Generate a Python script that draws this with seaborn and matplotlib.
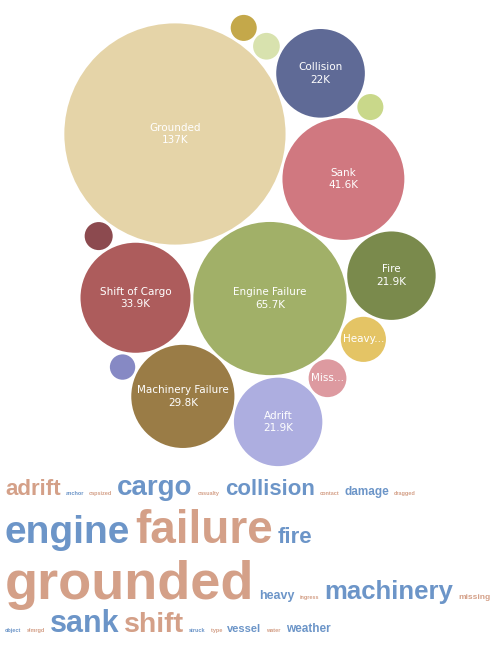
import numpy as np
import matplotlib
matplotlib.use("Agg")
import matplotlib.pyplot as plt
from matplotlib.patches import Circle
import seaborn as sns

sns.set_theme(style="white")
plt.rcParams['font.family'] = ['Liberation Sans', 'DejaVu Sans']

# bubble data (thousands)
causes = ['Grounded', 'Engine Failure', 'Sank', 'Shift of Cargo', 'Machinery Failure',
          'Collision', 'Fire', 'Adrift', 'Heavy Weather', 'Missing',
          'Dragged Anchor', 'Capsized', 'Struck Object', 'Ingress of Water', 'Damage']
counts = [137, 65.7, 41.6, 33.9, 29.8, 22, 21.9, 21.9, 5.7, 4.0, 2.2, 2.0, 1.9, 1.9, 1.8]
colors = ['#e5d4a8', '#a1b068', '#d07880', '#ad5c5c', '#9a7c46',
          '#5f6a96', '#7a8a4c', '#adaee0', '#e4c465', '#dd9aa0',
          '#8c4a4f', '#d8e2ae', '#c4a84a', '#c9d88a', '#8689c4']

# word cloud data
words = ['adrift', 'anchor', 'capsized', 'cargo', 'casualty', 'collision', 'contact',
         'damage', 'dragged', 'engine', 'failure', 'fire', 'grounded', 'heavy', 'ingress',
         'machinery', 'missing', 'object', 'slmrgd', 'sank', 'shift', 'struck', 'type',
         'vessel', 'water', 'weather']
word_sizes = [16, 4, 4, 20, 4, 16, 4, 8.5, 4, 28, 33, 16, 39, 9, 4,
              18.5, 6, 4, 4, 22, 20.5, 4, 4, 8, 4, 8.5]
word_colors = ['#d4a088', '#6c95c8']


def pack(radii, target, gap=3.0):
    pos = [np.array([0.0, 0.0])]
    for i in range(1, len(radii)):
        r = radii[i]
        cands = []
        for a in range(i):
            for ang in np.linspace(0, 2 * np.pi, 72, endpoint=False):
                d = radii[a] + r + gap
                cands.append(pos[a] + d * np.array([np.cos(ang), np.sin(ang)]))
            for b in range(a + 1, i):
                pa, pb = pos[a], pos[b]
                da, db = radii[a] + r + gap, radii[b] + r + gap
                dist = np.linalg.norm(pb - pa)
                if dist == 0 or dist > da + db:
                    continue
                x = (da ** 2 - db ** 2 + dist ** 2) / (2 * dist)
                h2 = da ** 2 - x ** 2
                if h2 < 0:
                    continue
                u = (pb - pa) / dist
                v = np.array([-u[1], u[0]])
                for s in (1, -1):
                    cands.append(pa + x * u + s * np.sqrt(h2) * v)
        best, bestd = None, np.inf
        for c in cands:
            ok = all(np.linalg.norm(c - pos[k]) >= radii[k] + r + gap - 1e-6 for k in range(i))
            if ok:
                d = np.linalg.norm((c - target) * np.array([1.0, 0.8]))
                if d < bestd:
                    best, bestd = c, d
        pos.append(best)
    return np.array(pos)


fig = plt.figure(figsize=(5, 6.5), dpi=100)

# bubbles
radii = np.sqrt(np.array(counts) * 101.6)
pos = pack(radii, target=np.array([70.0, -100.0]))
ax = fig.add_axes([0.07, 0.28, 0.86, 0.70])
for (x, y), r, c, name, v in zip(pos, radii, colors, causes, counts):
    ax.add_patch(Circle((x, y), r, color=c, lw=0))
    if v >= 20:
        ax.text(x, y, f"{name}\n{v:g}K", color='white', ha='center', va='center',
                fontsize=7.5, family=['DejaVu Sans'], linespacing=1.3)
    elif v >= 3:
        ax.text(x, y, name.split()[0][:4 if len(name) < 8 else 5] + "...", color='white',
                ha='center', va='center', fontsize=7.5, family=['DejaVu Sans'])
lo = (pos - radii[:, None]).min(axis=0)
hi = (pos + radii[:, None]).max(axis=0)
ax.set_xlim(lo[0] - 2, hi[0] + 2)
ax.set_ylim(lo[1] - 2, hi[1] + 2)
ax.set_aspect('equal')
ax.axis('off')

# word cloud, laid out in figure pixels
wax = fig.add_axes([0, 0, 1, 1], zorder=-1)
wax.set_xlim(0, 500)
wax.set_ylim(650, 0)
wax.axis('off')
renderer = fig.canvas.get_renderer()


def text_width(w, s):
    t = wax.text(0, 0, w, fontsize=s, fontweight='bold')
    bb = t.get_window_extent(renderer)
    t.remove()
    return bb.width


rows, cur, x = [], [], 5
for i, (w, s) in enumerate(zip(words, word_sizes)):
    wd = text_width(w, s)
    if cur and x + wd > 505:
        rows.append(cur)
        cur, x = [], 5
    cur.append((i, x))
    x += wd + 5
rows.append(cur)

baseline = 464
for row in rows:
    top = max(word_sizes[i] for i, _ in row)
    baseline += top * 1.3 + 5
    for i, xx in row:
        wax.text(xx, baseline, words[i], fontsize=word_sizes[i], fontweight='bold',
                 color=word_colors[i % 2], va='baseline', ha='left')

fig.savefig('out.png', dpi=100)
